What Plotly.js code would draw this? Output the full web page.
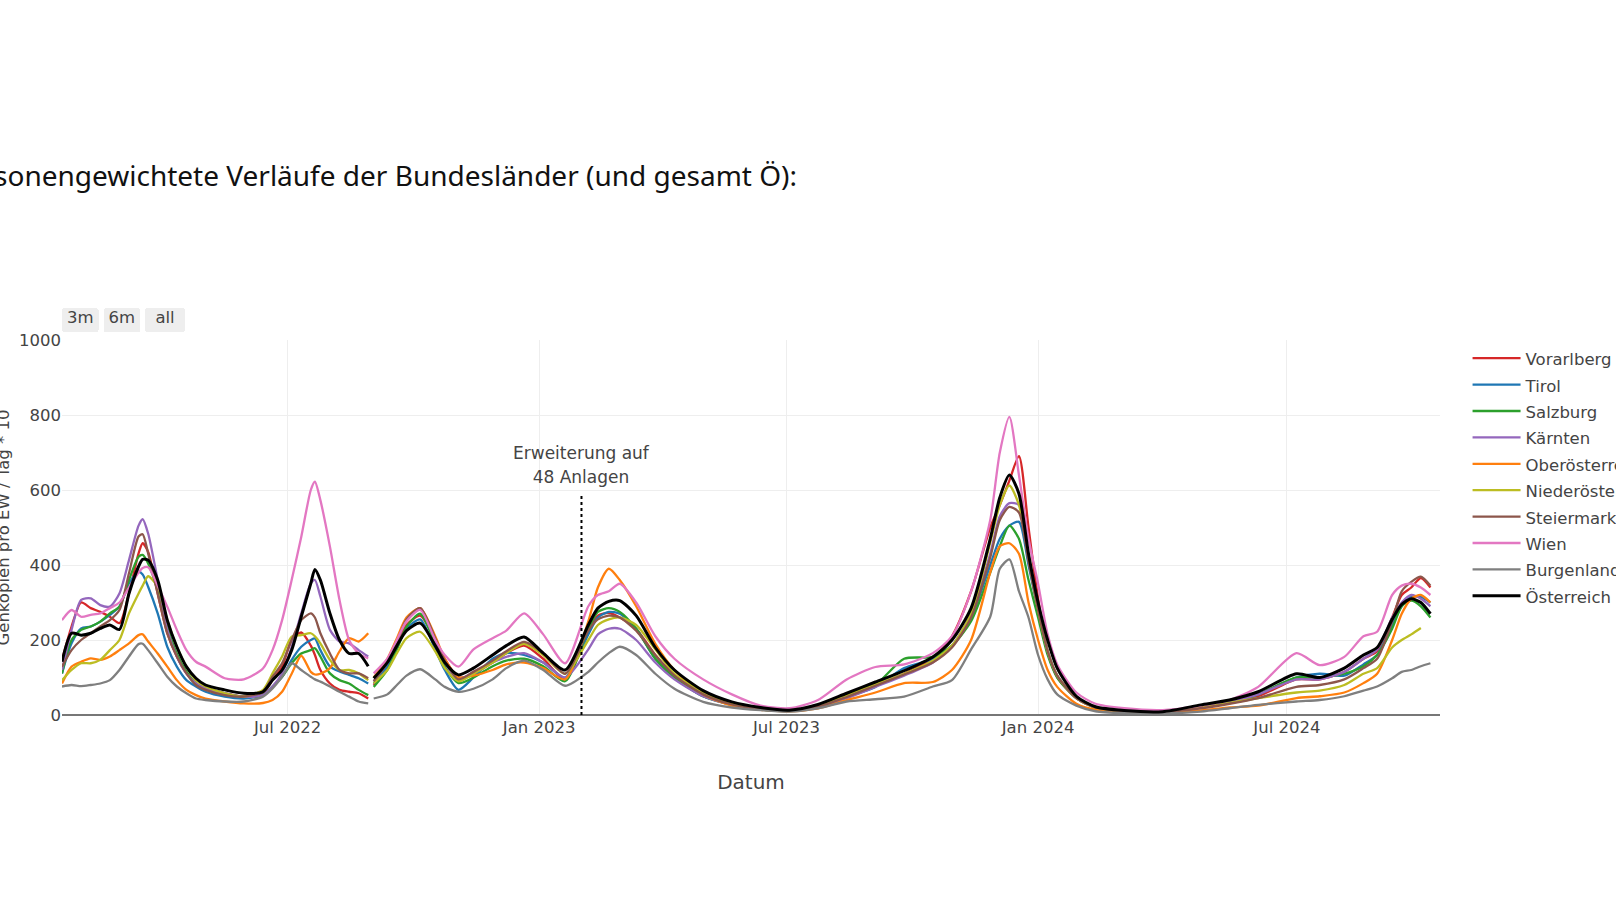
<!DOCTYPE html>
<html>
<head>
<meta charset="utf-8">
<script src="https://cdn.plot.ly/plotly-3.0.1.min.js"></script>
<style>
  html, body { margin: 0; padding: 0; background: #fff; overflow: hidden; width: 1616px; height: 909px; }
  #chart { position: absolute; left: -120px; top: 0; width: 1800px; height: 909px; }
</style>
</head>
<body>
<div id="chart"></div>
<script>
const dates = [
  '2022-01-17','2022-01-24','2022-01-31','2022-02-07','2022-02-14','2022-02-21','2022-02-28','2022-03-07','2022-03-14','2022-03-17',
  '2022-03-21','2022-03-28','2022-04-04','2022-04-11','2022-04-18','2022-04-25','2022-05-02','2022-05-16','2022-05-30','2022-06-13',
  '2022-06-20','2022-06-27','2022-07-04','2022-07-11','2022-07-18','2022-07-21','2022-07-25','2022-08-01','2022-08-08','2022-08-15',
  '2022-08-22','2022-08-29','2022-08-31','2022-09-02','2022-09-12','2022-09-19','2022-09-26','2022-10-06','2022-10-17','2022-10-24',
  '2022-11-03','2022-11-14','2022-11-28','2022-12-08','2022-12-21','2023-01-04','2023-01-20','2023-02-06','2023-02-13','2023-02-21',
  '2023-03-01','2023-03-13','2023-03-27','2023-04-10','2023-05-01','2023-05-22','2023-06-12','2023-07-03','2023-07-24','2023-08-14',
  '2023-09-04','2023-09-25','2023-10-16','2023-10-30','2023-11-13','2023-11-27','2023-12-04','2023-12-11','2023-12-18','2023-12-25',
  '2024-01-01','2024-01-08','2024-01-15','2024-01-29','2024-02-12','2024-03-04','2024-04-01','2024-04-29','2024-05-20','2024-06-10',
  '2024-07-08','2024-07-25','2024-08-12','2024-08-26','2024-09-05','2024-09-16','2024-09-23','2024-09-30','2024-10-07','2024-10-14'
];

const vorarlberg = [
  147,236,300,285,275,262,245,324,431,458,
  435,324,218,156,111,84,71,58,49,58,
  93,129,200,220,185,160,120,84,67,62,
  58,44,null,80,130,190,240,265,200,150,
  100,110,140,165,185,150,95,220,265,272,
  260,230,160,105,55,30,18,12,25,50,
  80,110,150,210,330,500,560,625,690,500,
  310,170,100,45,20,11,8,20,32,50,
  95,95,115,150,170,260,320,340,365,340
];
const tirol = [
  111,191,231,236,249,267,289,351,382,375,
  342,271,182,129,93,76,62,49,44,53,
  76,102,147,182,200,204,173,129,116,107,
  98,84,null,85,130,180,230,255,175,120,
  67,100,150,165,160,140,100,215,260,275,
  270,230,150,100,50,28,15,11,22,48,
  75,125,150,185,260,400,470,505,515,400,
  280,170,105,45,20,10,8,20,32,55,
  100,110,105,135,160,240,290,315,315,300
];
const salzburg = [
  111,200,227,236,249,271,289,360,422,427,
  404,333,236,164,116,84,71,58,49,53,
  76,102,138,164,173,178,156,111,93,84,
  67,53,null,75,120,175,235,270,190,130,
  85,100,130,145,150,130,90,230,275,285,
  275,230,150,100,50,27,15,11,22,50,
  80,150,155,185,250,380,450,505,470,360,
  260,160,100,45,20,10,8,20,32,55,
  100,100,110,130,160,230,290,305,290,260
];
const kaernten = [
  120,227,307,311,293,289,324,413,505,522,
  484,360,227,156,111,84,71,58,49,53,
  76,111,182,271,351,360,316,227,196,191,
  173,156,null,90,140,195,255,285,200,140,
  95,115,140,155,165,140,100,175,215,230,
  230,200,140,95,50,27,15,11,20,45,
  75,105,140,185,270,430,530,565,560,420,
  285,170,105,45,20,10,8,20,35,55,
  95,95,115,150,175,260,300,320,310,290
];
const oberoesterreich = [
  84,129,142,151,147,156,173,191,213,215,
  196,164,129,93,67,53,44,36,31,32,
  40,62,110,158,115,108,110,125,170,205,
  196,218,null,100,150,205,260,285,210,150,
  100,105,120,135,140,125,95,250,340,390,
  360,290,190,120,55,25,14,10,18,40,
  60,85,88,120,200,380,450,458,430,300,
  200,120,75,30,14,8,6,12,20,25,
  45,50,60,85,110,200,270,310,320,300
];
const niederoesterreich = [
  93,120,138,138,147,173,200,271,324,345,
  370,342,253,182,129,93,76,58,49,67,
  111,156,209,213,218,210,191,147,120,120,
  111,93,null,85,120,165,205,222,170,125,
  90,110,140,165,190,160,110,200,240,255,
  260,240,175,110,60,30,17,12,25,52,
  82,110,145,185,270,460,560,612,560,420,
  280,170,105,45,20,10,8,20,32,45,
  60,65,80,110,125,180,200,215,232,null
];
const steiermark = [
  129,173,200,218,236,253,280,378,476,482,
  431,324,218,156,111,80,67,53,49,62,
  102,138,200,253,271,260,218,164,120,111,
  111,98,null,90,140,195,255,285,205,145,
  95,115,145,170,195,165,110,225,255,265,
  260,225,160,105,55,28,16,12,22,48,
  78,108,140,180,260,420,520,555,540,410,
  280,170,105,45,20,10,8,18,30,45,
  75,80,95,125,150,250,330,355,369,345
];
const wien = [
  253,280,262,267,271,285,300,340,380,392,
  394,345,289,227,173,142,129,98,95,124,
  173,253,360,475,600,622,573,449,307,200,
  164,151,null,111,150,200,250,280,200,160,
  129,175,205,225,271,215,138,290,320,330,
  350,300,210,150,95,55,25,18,40,95,
  128,135,165,210,330,520,700,795,640,470,
  350,215,135,60,30,18,13,25,40,75,
  165,133,155,210,222,320,345,350,340,320
];
const burgenland = [
  76,80,77,80,84,93,120,156,189,190,
  173,138,102,76,58,44,40,36,36,49,
  71,102,138,120,102,95,89,76,62,49,
  36,31,null,44,55,80,105,122,95,75,
  62,70,95,125,145,120,78,115,140,165,
  182,160,110,70,35,20,13,9,18,36,
  42,49,76,93,175,262,390,415,330,260,
  160,95,55,25,10,5,4,9,18,27,
  36,40,50,65,76,98,115,120,130,138
];
const oesterreich = [
  142,218,213,218,231,240,228,324,396,415,
  413,360,253,182,129,98,80,67,58,62,
  93,120,173,262,351,388,360,271,200,164,
  164,130,null,98,140,185,225,245,185,140,
  107,125,160,185,208,165,120,240,285,303,
  305,265,180,120,65,35,20,13,28,58,
  88,118,155,200,285,470,580,640,590,430,
  300,200,125,50,22,12,9,27,40,62,
  110,100,125,160,180,255,295,310,300,270
];

const seriesNames = ['Vorarlberg','Tirol','Salzburg','Kärnten','Oberösterreich','Niederösterreich','Steiermark','Wien','Burgenland','Österreich'];
const seriesValues = [vorarlberg, tirol, salzburg, kaernten, oberoesterreich, niederoesterreich, steiermark, wien, burgenland, oesterreich];
const seriesColors = ['#d62728','#1f77b4','#2ca02c','#9467bd','#ff7f0e','#bcbd22','#8c564b','#e377c2','#7f7f7f','#000000'];

const markerDate = '2023-02-01';
const markerTop = 592;
const markerLines = ['Erweiterung auf', '48 Anlagen'];

const traces = seriesNames.map((name, i) => ({
  type: 'scatter',
  mode: 'lines',
  name: '<span style="font-size:16.5px">' + name + '</span>',
  x: dates,
  y: seriesValues[i],
  line: { color: seriesColors[i], width: name === 'Österreich' ? 3 : 2.3, shape: 'spline', smoothing: 0.7 },
  connectgaps: false
}));

const layout = {
  width: 1800,
  height: 909,
  margin: { l: 182, r: 240, t: 340, b: 194 },
  paper_bgcolor: '#ffffff',
  plot_bgcolor: '#ffffff',
  font: { family: 'DejaVu Sans', size: 16.5, color: '#444' },
  title: {
    text: 'Personengewichtete Verläufe der Bundesländer (und gesamt Ö):',
    font: { family: 'Noto Sans', size: 28, color: '#111' },
    xref: 'container', x: 917 / 1800, xanchor: 'right',
    yref: 'container', y: 1 - 176 / 909, yanchor: 'middle'
  },
  xaxis: {
    type: 'date',
    range: ['2022-01-17', '2024-10-21'],
    dtick: 'M6',
    tick0: '2022-01-01',
    tickformat: '%b %Y',
    gridcolor: '#eee',
    zeroline: false,
    showline: false,
    automargin: true,
    title: { text: 'Datum', standoff: 39 },
    rangeselector: {
      buttons: [
        { count: 3, label: '3m', step: 'month', stepmode: 'backward' },
        { count: 6, label: '6m', step: 'month', stepmode: 'backward' },
        { step: 'all', label: '&nbsp;all&nbsp;' }
      ]
    }
  },
  yaxis: {
    range: [0, 1000],
    dtick: 200,
    gridcolor: '#eee',
    zeroline: true,
    zerolinecolor: '#777',
    zerolinewidth: 2,
    automargin: true,
    title: { text: 'Genkopien pro EW / Tag * 10', font: { size: 16.5 }, standoff: 5 }
  },
  legend: { x: 1.02, y: 1, font: { size: 18 }, itemwidth: 48 },
  shapes: [{
    type: 'line', xref: 'x', yref: 'y',
    x0: markerDate, x1: markerDate, y0: 0, y1: markerTop,
    line: { color: '#000', width: 2, dash: 'dot' }
  }],
  annotations: [{
    x: markerDate, y: markerTop + 12, xref: 'x', yref: 'y',
    text: markerLines.map(s => '<span style="font-size:17px">' + s + '</span>').join('<br>'),
    showarrow: false, yanchor: 'bottom',
    font: { size: 18.2, color: '#444' }
  }]
};

Plotly.newPlot('chart', traces, layout, { displayModeBar: false, responsive: false });
</script>
</body>
</html>
